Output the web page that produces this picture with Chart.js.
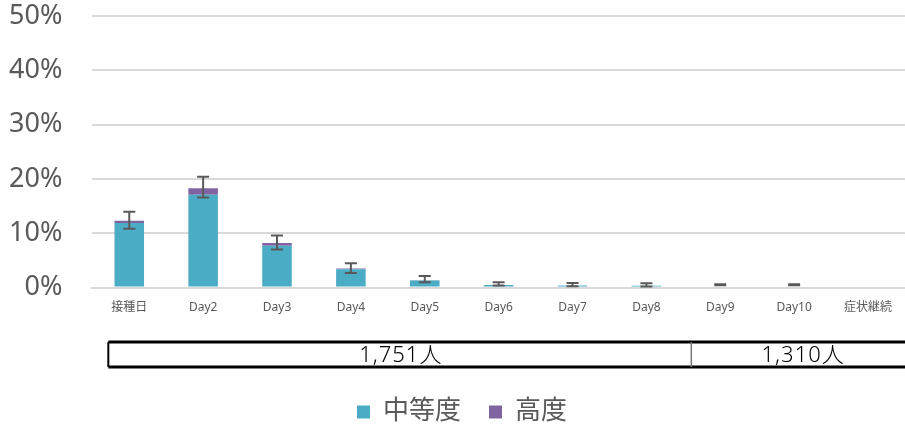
<!DOCTYPE html>
<html>
<head>
  <meta charset="utf-8">
  <title>症状の推移</title>
  <script src="https://cdn.jsdelivr.net/npm/chart.js"></script>
  <style>
    body { margin: 0; background: #ffffff; }
    #wrap { width: 905px; height: 432px; position: relative; }
  </style>
</head>
<body>
  <div id="wrap"><canvas id="chart"></canvas></div>
  <script>
    // data (percent)
    const categories = ['接種日', 'Day2', 'Day3', 'Day4', 'Day5', 'Day6', 'Day7', 'Day8', 'Day9', 'Day10', '症状継続'];
    const moderate = [11.9, 17.1, 7.7, 3.4, 1.3, 0.5, 0.4, 0.35, 0, 0, 0];
    const severe   = [0.4, 1.2, 0.5, 0.1, 0.05, 0, 0, 0, 0, 0, 0];
    const errLow   = [10.85, 16.6, 7.0, 2.7, 0.97, 0.4, 0.25, 0.2, 0.45, 0.45, null];
    const errHigh  = [13.97, 20.4, 9.6, 4.5, 2.15, 1.0, 0.85, 0.8, 0.6, 0.6, null];
    const yTicks = [0, 10, 20, 30, 40, 50];
    const seriesNames = ['中等度', '高度'];
    const seriesColors = ['#4BACC6', '#8064A2'];
    const tableLabels = ['1,751人', '1,310人'];

    const FONT = "'Noto Sans', 'Noto Sans CJK JP', sans-serif";
    const TEXT = '#595959';

    const errorBars = {
      id: 'errorBars',
      afterDatasetsDraw(chart) {
        const { ctx, scales: { x, y } } = chart;
        ctx.save();
        ctx.strokeStyle = '#595959';
        ctx.lineWidth = 2;
        errLow.forEach((lo, i) => {
          if (lo == null) return;
          const px = x.getPixelForValue(i);
          const yl = y.getPixelForValue(lo);
          const yh = y.getPixelForValue(errHigh[i]);
          ctx.beginPath();
          ctx.moveTo(px, yl); ctx.lineTo(px, yh);
          ctx.moveTo(px - 6, yl); ctx.lineTo(px + 6, yl);
          ctx.moveTo(px - 6, yh); ctx.lineTo(px + 6, yh);
          ctx.stroke();
        });
        ctx.restore();
      }
    };

    // head-count table under the axis, and the legend
    const extras = {
      id: 'extras',
      afterDraw(chart) {
        const { ctx, chartArea, scales: { x } } = chart;
        const left = chartArea.left + 16;
        const mid = x.getPixelForValue(7.5) + 8;
        const right = chart.width + 20;
        const top = 342, bottom = 367;
        ctx.save();
        ctx.strokeStyle = '#000';
        ctx.lineWidth = 3;
        ctx.beginPath();
        ctx.moveTo(left, top); ctx.lineTo(right, top);
        ctx.moveTo(left, bottom); ctx.lineTo(right, bottom);
        ctx.stroke();
        ctx.lineWidth = 2;
        ctx.beginPath();
        ctx.moveTo(left, top); ctx.lineTo(left, bottom);
        ctx.stroke();
        ctx.strokeStyle = '#777';
        ctx.lineWidth = 1.5;
        ctx.beginPath();
        ctx.moveTo(mid, top); ctx.lineTo(mid, bottom);
        ctx.stroke();

        ctx.fillStyle = '#000';
        ctx.font = "300 22px " + FONT;
        ctx.textAlign = 'center';
        ctx.textBaseline = 'middle';
        ctx.letterSpacing = '1px';
        ctx.fillText(tableLabels[0], (left + mid) / 2 + 1, (top + bottom) / 2 + 1);
        ctx.fillText(tableLabels[1], (mid + 913) / 2 + 1, (top + bottom) / 2 + 1);
        ctx.letterSpacing = '0px';

        // legend
        ctx.font = "26px " + FONT;
        ctx.textAlign = 'left';
        const ly = 412;
        let lx = 357;
        seriesNames.forEach((name, i) => {
          ctx.fillStyle = seriesColors[i];
          ctx.fillRect(lx, ly - 6.5, 13, 13);
          ctx.fillStyle = TEXT;
          ctx.fillText(name, lx + 26, ly);
          lx += 26 + ctx.measureText(name).width + 28;
        });
        ctx.restore();
      }
    };

    new Chart(document.getElementById('chart'), {
      type: 'bar',
      data: {
        labels: categories,
        datasets: seriesNames.map((name, i) => ({
          label: name,
          data: i === 0 ? moderate : severe,
          backgroundColor: seriesColors[i],
          categoryPercentage: 1,
          barPercentage: 0.4
        }))
      },
      options: {
        responsive: true,
        maintainAspectRatio: false,
        animation: false,
        layout: { padding: { top: 0, right: 0, bottom: 104, left: 9 } },
        plugins: { legend: { display: false }, tooltip: { enabled: false } },
        scales: {
          x: {
            stacked: true,
            grid: { display: false, drawTicks: false },
            border: { color: '#d9d9d9', width: 2 },
            ticks: { color: TEXT, font: { size: 12, family: FONT }, padding: 13, maxRotation: 0, autoSkip: false }
          },
          y: {
            stacked: true,
            min: 0,
            max: 50,
            afterBuildTicks: axis => { axis.ticks = yTicks.map(v => ({ value: v })); },
            grid: { color: '#d9d9d9', lineWidth: 2, drawTicks: true, tickLength: 30, tickColor: 'rgba(0,0,0,0)' },
            border: { display: false },
            ticks: {
              color: TEXT,
              font: { size: 27, family: FONT },
              padding: 0,
              callback: v => v + '%'
            }
          }
        }
      },
      plugins: [errorBars, extras]
    });
  </script>
</body>
</html>
